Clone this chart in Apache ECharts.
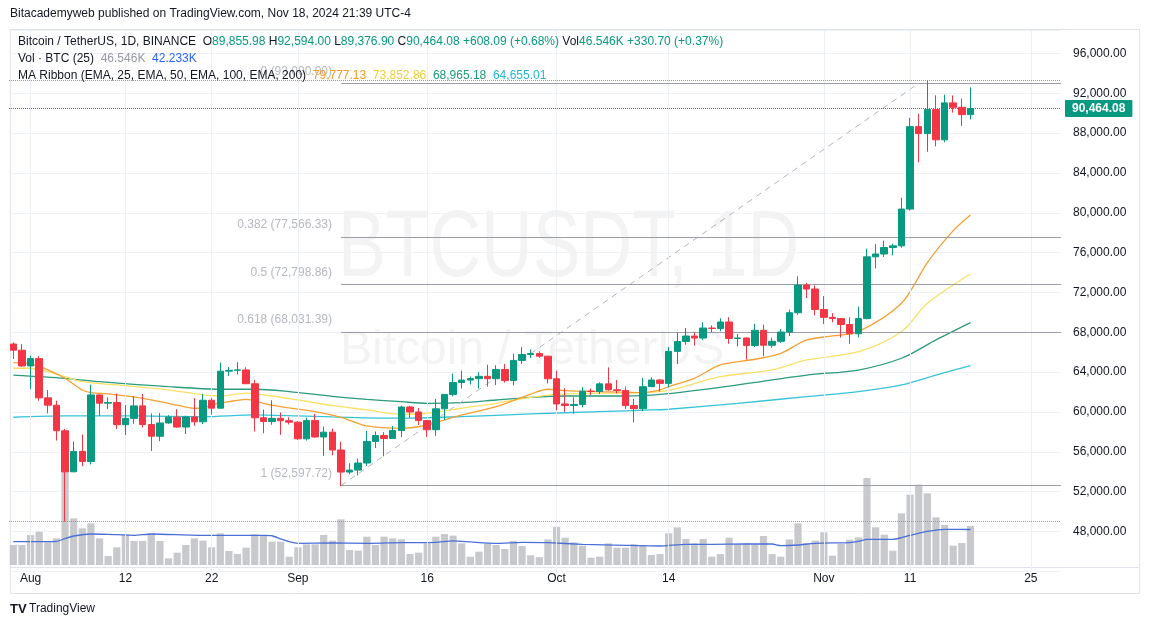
<!DOCTYPE html>
<html><head><meta charset="utf-8">
<script src="https://cdn.jsdelivr.net/npm/echarts@6/dist/echarts.min.js"></script>
<style>html,body{margin:0;padding:0;background:#fff}#c{width:1149px;height:628px}</style>
</head><body><div id="c"></div>
<script>
const FONT = '"Liberation Sans", Arial, sans-serif';

const dates = [
'Jul 30','Jul 31',
'Aug 1','Aug 2','Aug 3','Aug 4','Aug 5','Aug 6','Aug 7','Aug 8','Aug 9','Aug 10','Aug 11','Aug 12','Aug 13','Aug 14','Aug 15','Aug 16','Aug 17','Aug 18','Aug 19','Aug 20','Aug 21','Aug 22','Aug 23','Aug 24','Aug 25','Aug 26','Aug 27','Aug 28','Aug 29','Aug 30','Aug 31',
'Sep 1','Sep 2','Sep 3','Sep 4','Sep 5','Sep 6','Sep 7','Sep 8','Sep 9','Sep 10','Sep 11','Sep 12','Sep 13','Sep 14','Sep 15','Sep 16','Sep 17','Sep 18','Sep 19','Sep 20','Sep 21','Sep 22','Sep 23','Sep 24','Sep 25','Sep 26','Sep 27','Sep 28','Sep 29','Sep 30',
'Oct 1','Oct 2','Oct 3','Oct 4','Oct 5','Oct 6','Oct 7','Oct 8','Oct 9','Oct 10','Oct 11','Oct 12','Oct 13','Oct 14','Oct 15','Oct 16','Oct 17','Oct 18','Oct 19','Oct 20','Oct 21','Oct 22','Oct 23','Oct 24','Oct 25','Oct 26','Oct 27','Oct 28','Oct 29','Oct 30','Oct 31',
'Nov 1','Nov 2','Nov 3','Nov 4','Nov 5','Nov 6','Nov 7','Nov 8','Nov 9','Nov 10','Nov 11','Nov 12','Nov 13','Nov 14','Nov 15','Nov 16','Nov 17','Nov 18','Nov 19','Nov 20','Nov 21','Nov 22','Nov 23','Nov 24','Nov 25','Nov 26','Nov 27','Nov 28'
];

const opens = [
66819.32,66201.02,
64619.24,65357.50,61414.81,60676.09,58110.30,53991.47,56034.31,55027.47,61710.57,60880.12,60945.15,58719.49,59354.72,60609.56,58737.26,57560.11,58894.10,59478.96,58483.99,59493.45,59012.92,61175.20,60381.81,64094.37,64178.99,64219.99,62834.00,59415.00,59034.90,59359.01,59123.99,
58974.00,57301.77,59132.12,57487.74,57970.90,56180.00,53962.97,54160.86,54869.95,57042.01,57635.99,57338.00,58132.31,60497.99,59993.02,59132.00,58213.99,60313.99,61759.98,62948.00,63201.05,63348.97,63578.76,63339.99,64262.70,63152.01,65173.99,65769.95,65858.00,65602.01,
63327.60,60804.92,60649.27,60752.72,62086.00,62058.01,62819.91,62224.01,62160.50,60636.01,60326.40,62539.99,63206.23,62870.02,66084.00,67074.14,67620.00,67421.78,68427.99,68377.99,69032.00,67377.50,67426.01,66668.65,68198.27,66698.34,67092.76,68021.69,69962.21,72736.41,72344.75,
70292.01,69496.00,69374.74,68775.99,67850.01,69372.01,75571.99,75857.89,76509.78,76677.46,80370.01,88648.00,87952.00,90375.21,87325.59,91032.08,90587.98,89855.98
];
const closes = [
66201.01,64619.25,
65357.50,61415.07,60680.09,58116.97,53991.46,56034.32,55027.46,61710.56,60880.11,60945.15,58719.48,59354.72,60609.57,58737.27,57560.10,58894.10,59478.97,58483.98,59493.45,59012.92,61175.19,60381.81,64094.36,64178.99,64219.99,62834.00,59415.00,59034.90,59359.01,59123.99,58973.99,
57301.86,59132.13,57487.73,57970.90,56180.00,53962.97,54160.86,54869.95,57042.00,57635.99,57338.00,58132.32,60498.00,59993.03,59132.00,58213.99,60313.99,61759.99,62947.99,63201.05,63348.96,63578.76,63339.99,64262.70,63152.01,65173.99,65769.95,65858.00,65602.01,63327.59,
60805.78,60649.28,60752.71,62086.00,62058.00,62819.91,62224.00,62160.49,60636.02,60326.39,62540.00,63206.22,62870.02,66083.99,67074.14,67620.01,67421.78,68428.00,68378.00,69031.99,67377.50,67426.00,66668.65,68198.28,66698.33,67092.76,68021.70,69962.21,72736.42,72344.74,70292.01,
69496.01,69374.74,68775.99,67850.01,69372.01,75571.99,75857.89,76509.78,76677.46,80370.01,88647.99,87952.01,90375.20,87325.59,91032.07,90586.92,89855.99,90464.08
];
const lows = [
65323.19,64532.05,
62302.00,61130.00,59850.00,57122.77,49000.00,53950.00,54558.62,54730.00,59587.62,60287.56,58286.73,57688.00,58806.10,58433.18,56078.54,57068.00,58813.05,58418.54,57787.30,58610.88,58783.47,59724.87,60345.18,63619.92,63775.14,62800.00,58034.01,57860.00,58713.09,57701.10,58744.00,
57201.00,57128.00,57415.00,55606.00,55643.65,52550.00,53745.54,53629.01,54591.96,56386.40,55545.19,57324.00,57493.30,59400.00,58691.05,57493.30,57610.01,59174.80,61555.00,62350.00,62758.00,62357.93,62538.75,62700.00,62947.08,62670.00,64819.90,65422.23,65432.00,62856.30,
60164.00,60000.00,59828.11,60459.90,61689.26,61798.97,62128.00,61860.31,60301.00,58946.00,60087.64,62487.23,62050.00,62457.81,64800.01,66750.49,66666.00,67192.36,68010.00,68100.00,66840.67,66571.42,65260.00,66510.00,65596.29,66439.90,66913.73,67618.00,69760.00,71436.00,69685.76,
68820.14,69000.14,67478.73,66835.00,67476.63,69298.00,74416.00,75555.00,75714.66,76492.00,80216.01,85072.00,86127.99,86668.21,87073.38,90056.17,88722.00,89376.90
];
const highs = [
66987.67,66810.00,
65659.78,65596.14,62198.22,61117.63,58305.59,57040.00,57736.05,62745.14,61751.86,61464.53,61858.00,60680.00,61572.40,61800.00,59847.29,59890.00,59680.00,60280.00,59618.00,61396.33,61820.93,61400.00,64955.00,64513.17,64996.00,64481.00,63212.00,60234.98,61166.99,59944.07,59462.38,
59076.59,59425.69,59809.65,58519.00,58327.07,57008.00,54850.00,55318.00,58088.00,58044.36,57981.71,58588.00,60625.00,60610.45,60395.80,59210.70,61320.00,61786.24,63850.00,64133.32,63559.90,64000.00,64745.88,64688.00,64817.99,65839.00,66498.00,66260.00,66076.12,65618.80,
64130.63,62390.31,61477.19,62484.85,62370.56,62975.00,64478.19,63200.00,62543.75,61321.68,63417.56,63480.00,63285.72,66500.00,67950.00,68424.00,67939.40,69000.00,68693.26,69400.00,69519.52,67836.01,67472.83,68850.00,68771.49,67454.55,68332.05,70270.00,73620.12,72961.00,72700.00,
71632.95,69914.37,69391.00,69500.00,70577.91,76400.00,76849.99,77199.99,76900.00,81500.00,89530.54,89940.00,93265.64,91790.00,91850.00,91779.66,91449.99,92594.00
];
// volume, thousands of BTC
const volumes = [
23.8,23.8,
35.7,39.7,27.0,31.7,112.0,55.5,43.6,49.6,31.7,10.7,21.0,36.5,28.6,28.6,37.7,28.6,7.9,14.7,23.8,31.7,29.0,21.0,37.7,16.7,13.1,20.6,36.5,35.5,27.8,27.8,9.9,
21.0,24.6,24.6,35.7,29.0,54.3,17.9,17.1,33.7,23.8,33.7,31.7,30.5,13.1,14.7,25.8,33.7,36.9,34.9,25.8,9.9,15.9,25.8,23.8,19.0,28.6,22.6,11.5,9.3,30.5,
45.6,32.5,27.0,23.0,8.7,9.9,25.8,20.6,20.6,24.6,23.8,11.9,13.0,37.7,44.8,31.0,25.8,31.0,9.9,13.0,32.5,24.6,25.8,24.6,34.5,13.0,9.9,30.4,49.6,25.8,29.0,
38.9,11.1,25.0,30.1,32.9,103.5,44.8,36.1,17.0,61.5,83.7,95.6,85.3,56.7,47.6,23.0,26.2,46.546
];
// Volume SMA(25)
const volMa = [
['Jul 30',27.7],['Aug 3',27.7],['Aug 4',28.0],['Aug 5',31.5],['Aug 6',34.5],['Aug 8',36.9],['Aug 10',36.5],['Aug 13',35.3],['Aug 15',36.9],['Aug 21',35.3],['Aug 28',35.3],['Aug 29',34.8],['Aug 30',31.0],['Aug 31',27.7],
['Sep 1',25.8],['Sep 5',26.2],['Sep 9',25.8],['Sep 13',26.6],['Sep 17',27.0],['Sep 19',28.6],['Sep 21',27.4],['Sep 24',25.8],['Sep 27',27.0],['Sep 30',26.6],
['Oct 4',24.6],['Oct 9',23.4],['Oct 13',22.6],['Oct 16',24.6],['Oct 19',24.6],['Oct 23',25.0],['Oct 26',25.0],['Oct 27',23.0],['Oct 29',23.8],['Oct 31',25.8],
['Nov 4',26.6],['Nov 5',28.0],['Nov 6',30.6],['Nov 9',30.6],['Nov 10',32.5],['Nov 11',35.3],['Nov 13',40.0],['Nov 15',42.4],['Nov 18',42.233]
];
// MA Ribbon EMA lines
const ema25 = [
['Jul 30',64950],['Aug 1',64820],['Aug 3',64220],['Aug 5',63380],['Aug 7',62200],['Aug 8',61940],['Aug 10',61810],['Aug 14',61370],['Aug 17',60870],['Aug 20',60370],['Aug 21',60370],['Aug 22',60700],['Aug 24',61030],['Aug 26',61270],['Aug 28',60870],['Aug 30',60530],
['Sep 3',60030],['Sep 6',59450],['Sep 9',58600],['Sep 13',58360],['Sep 16',58690],['Sep 20',59700],['Sep 24',60530],['Sep 28',61800],['Sep 30',62280],
['Oct 2',62140],['Oct 6',62040],['Oct 11',61940],['Oct 13',62210],['Oct 14',62540],['Oct 17',63380],['Oct 20',64720],['Oct 24',65290],['Oct 27',65890],['Oct 30',67230],
['Nov 2',67630],['Nov 5',68060],['Nov 10',70910],['Nov 13',75000],['Nov 16',78200],['Nov 18',79777.13]
];
const ema50 = [
['Jul 30',64390],['Aug 1',64390],['Aug 3',64050],['Aug 5',63540],['Aug 7',63040],['Aug 11',62710],['Aug 17',62210],['Aug 21',61710],['Aug 23',61600],['Aug 25',61810],['Aug 26',61880],['Aug 29',61600],
['Sep 1',61200],['Sep 5',60650],['Sep 9',60200],['Sep 13',59770],['Sep 16',59870],['Sep 20',60370],['Sep 24',60870],['Sep 28',61470],
['Oct 2',61810],['Oct 6',61880],['Oct 10',61920],['Oct 14',62170],['Oct 20',63540],['Oct 26',64220],['Oct 30',65220],
['Nov 5',66050],['Nov 10',68060],['Nov 13',70910],['Nov 18',73852.86]
];
const ema100 = [
['Jul 30',63700],['Aug 5',63380],['Aug 9',63040],['Aug 17',62540],['Aug 23',62280],['Aug 27',62280],['Aug 31',62040],
['Sep 5',61570],['Sep 9',61270],['Sep 13',61030],['Sep 16',60870],['Sep 20',60930],['Sep 24',61200],['Sep 28',61470],
['Oct 2',61600],['Oct 6',61600],['Oct 10',61620],['Oct 14',61840],['Oct 22',62710],['Oct 30',63700],
['Nov 5',64210],['Nov 10',65390],['Nov 14',67230],['Nov 18',68965.18]
];
const ema200 = [
['Jul 30',59470],['Aug 5',59600],['Aug 13',59600],['Aug 21',59530],['Aug 27',59700],
['Sep 1',59600],['Sep 5',59500],['Sep 13',59370],['Sep 20',59530],['Sep 28',59800],
['Oct 6',60030],['Oct 12',60200],['Oct 14',60270],['Oct 22',60870],['Oct 30',61540],
['Nov 5',62040],['Nov 10',62710],['Nov 14',63700],['Nov 18',64655.01]
];
// Fibonacci retracement
const fibRatios = [1, 0.618, 0.5, 0.382, 0];
const fibPrices = [52597.72, 68031.39, 72798.86, 77566.33, 93000.00];
const fibStart = 'Sep 6';
const trendEnd = 'Nov 12';
const highLine = 93265.64;
const lowLine = 49000.00;

const tickDates = ['Aug 1','Aug 12','Aug 22','Sep 1','Sep 16','Oct 1','Oct 14','Nov 1','Nov 11','Nov 25'];
const tickLabels = ['Aug','12','22','Sep','16','Oct','14','Nov','11','25'];

const fmt2 = v => v.toLocaleString('en-US', {minimumFractionDigits: 2, maximumFractionDigits: 2});
const n = closes.length - 1;
const lastO = opens[n], lastH = highs[n], lastL = lows[n], lastC = closes[n];
const chg = lastC - closes[n - 1];
const chgPct = chg / closes[n - 1] * 100;

const GREEN = '#089981', RED = '#f23645';
const C25 = '#f5a033', C50 = '#fbe066', C100 = '#2a9b7b', C200 = '#35c3d8';

const chart = echarts.init(document.getElementById('c'), null, {renderer: 'canvas'});

const rs = (fill, extra) => Object.assign({fill: fill, fontSize: 12, fontFamily: FONT}, extra || {});

const line1 = '{d|Bitcoin / TetherUS, 1D, BINANCE}  {d|O}{g|' + fmt2(lastO) + '} {d|H}{g|' + fmt2(lastH) + '} {d|L}{g|' + fmt2(lastL) +
  '} {d|C}{g|' + fmt2(lastC) + '} {g|+' + fmt2(chg) + ' (+' + chgPct.toFixed(2) + '%)} {d|Vol}{g|' + volumes[n].toFixed(3) + 'K} {g|+330.70 (+0.37%)}';
const line2 = '{d|Vol · BTC (25)}  {gr|' + volumes[n].toFixed(3) + 'K}  {b|' + volMa[volMa.length - 1][1].toFixed(3) + 'K}';
const line3 = '{d|MA Ribbon (EMA, 25, EMA, 50, EMA, 100, EMA, 200)}  {o|' + fmt2(ema25[ema25.length-1][1]) + '}  {y|' + fmt2(ema50[ema50.length-1][1]) +
  '}  {t|' + fmt2(ema100[ema100.length-1][1]) + '}  {c|' + fmt2(ema200[ema200.length-1][1]) + '}';
const richLegend = {d: rs('#131722'), g: rs(GREEN), gr: rs('#9598a1'), b: rs('#2962ff'), o: rs('#f59a23'), y: rs('#f0cf3a'), t: rs('#1f9a78'), c: rs('#22b8cf')};

const emaSeries = (name, data, color) => ({
  name: name, type: 'line', xAxisIndex: 0, yAxisIndex: 0, data: data, smooth: 0.3, symbol: 'none',
  lineStyle: {color: color, width: 1.3}, z: 3, silent: true
});

const option = {
  animation: false,
  backgroundColor: '#ffffff',
  textStyle: {fontFamily: FONT},
  grid: [
    {left: 9, right: 88, top: 30, bottom: 56.7},
    {left: 9, right: 88, top: 365, bottom: 63}
  ],
  xAxis: [
    {type: 'category', gridIndex: 0, data: dates, boundaryGap: true,
     axisLine: {show: false}, axisTick: {show: false}, axisLabel: {show: false}, splitLine: {show: false}},
    {type: 'category', gridIndex: 1, data: dates, boundaryGap: true,
     axisLine: {show: false}, axisTick: {show: false}, splitLine: {show: false},
     axisLabel: {show: true, interval: (i, v) => tickDates.indexOf(v) >= 0,
       formatter: v => tickLabels[tickDates.indexOf(v)], color: '#131722', fontSize: 12, margin: 8, fontFamily: FONT}}
  ],
  yAxis: [
    {type: 'value', gridIndex: 0, position: 'right', min: 44000, max: 98350, interval: 4000, scale: false,
     axisLine: {show: false}, axisTick: {show: false},
     axisLabel: {showMinLabel: false, showMaxLabel: false, margin: 12, color: '#131722', fontSize: 12, fontFamily: FONT, formatter: v => fmt2(v)},
     splitLine: {show: true, lineStyle: {color: '#eff2f7', width: 1}}},
    {type: 'value', gridIndex: 1, min: 0, max: 238, show: false, splitLine: {show: false}}
  ],
  graphic: [
    {type: 'rect', silent: true, z: -1, shape: {x: 10.5, y: 29.5, width: 1129, height: 564}, style: {fill: 'none', stroke: '#e0e3eb', lineWidth: 1}},
    {type: 'line', silent: true, z: -1, shape: {x1: 10, y1: 567.5, x2: 1139, y2: 567.5}, style: {stroke: '#e0e3eb', lineWidth: 1}},
    {type: 'text', silent: true, z: 0, x: 338, y: 250, scaleX: 0.753,
     style: {text: 'BTCUSDT, 1D', fontSize: 95, fontFamily: FONT, fill: 'rgba(120,123,134,0.09)', align: 'left', verticalAlign: 'middle'}},
    {type: 'text', silent: true, z: 0, x: 340, y: 351,
     style: {text: 'Bitcoin / TetherUS', fontSize: 48, fontFamily: FONT, fill: 'rgba(120,123,134,0.09)', align: 'left', verticalAlign: 'middle'}},
    {type: 'text', silent: true, z: 10, x: 10, y: 14,
     style: {text: 'Bitacademyweb published on TradingView.com, Nov 18, 2024 21:39 UTC-4', fontSize: 12, fontFamily: FONT, fill: '#131722', align: 'left', verticalAlign: 'middle'}},
    {type: 'text', silent: true, z: 10, x: 18, y: 42, style: {text: line1, rich: richLegend, fontSize: 12, fontFamily: FONT, align: 'left', verticalAlign: 'middle'}},
    {type: 'text', silent: true, z: 10, x: 18, y: 59, style: {text: line2, rich: richLegend, fontSize: 12, fontFamily: FONT, align: 'left', verticalAlign: 'middle'}},
    {type: 'text', silent: true, z: 10, x: 18, y: 76, style: {text: line3, rich: richLegend, fontSize: 12, fontFamily: FONT, align: 'left', verticalAlign: 'middle'}},
    {type: 'text', silent: true, z: 10, x: 10, y: 609, style: {text: 'TV', fontSize: 13, fontWeight: 900, fontFamily: FONT, fill: '#131722', align: 'left', verticalAlign: 'middle'}},
    {type: 'text', silent: true, z: 10, x: 29, y: 609, style: {text: 'TradingView', fontSize: 12, fontFamily: FONT, fill: '#131722', align: 'left', verticalAlign: 'middle'}}
  ],
  series: [
    {name: 'vgrid', type: 'line', xAxisIndex: 0, yAxisIndex: 0, data: dates.map(() => null), z: 1, silent: true, symbol: 'none',
     markLine: {silent: true, symbol: ['none', 'none'], label: {show: false}, animation: false,
       lineStyle: {color: '#eceff4', type: 'solid', width: 1},
       data: tickDates.map(d => ({xAxis: d}))}},
    {name: 'Volume', type: 'bar', xAxisIndex: 1, yAxisIndex: 1, data: volumes, barWidth: '84%',
     itemStyle: {color: '#c8c9cc'}, z: 2, silent: true},
    {name: 'Vol MA', type: 'line', xAxisIndex: 1, yAxisIndex: 1, data: volMa, smooth: 0.2, symbol: 'none',
     lineStyle: {color: '#4a6fd8', width: 1.3}, z: 3, silent: true},
    emaSeries('EMA 200', ema200, C200),
    emaSeries('EMA 100', ema100, C100),
    emaSeries('EMA 50', ema50, C50),
    emaSeries('EMA 25', ema25, C25),
    {name: 'Fib', type: 'scatter', xAxisIndex: 0, yAxisIndex: 0, symbolSize: 0, z: 3, silent: true,
     data: fibPrices.map((p, i) => ({value: [fibStart, p], label: {formatter: fibRatios[i] + ' (' + fmt2(p) + ')'}})),
     label: {show: true, position: [-9, -12], align: 'right', verticalAlign: 'middle', color: '#a3a6ae', fontSize: 12, fontFamily: FONT},
     markLine: {silent: true, symbol: ['none', 'none'], label: {show: false}, animation: false,
       lineStyle: {color: '#9b9ea6', type: 'solid', width: 1},
       data: fibPrices.map(p => [{coord: [fibStart, p]}, {coord: [dates[dates.length - 1], p], x: 1061}])}},
    {name: 'Trend', type: 'line', xAxisIndex: 0, yAxisIndex: 0, symbol: 'none', z: 4, silent: true,
     data: [[fibStart, fibPrices[0]], [trendEnd, fibPrices[4]]],
     lineStyle: {color: '#b2b5be', width: 1, type: [6, 5]}},
    {name: 'BTCUSDT', type: 'candlestick', xAxisIndex: 0, yAxisIndex: 0, z: 5, barWidth: 7, silent: true,
     data: opens.map((o, i) => [o, closes[i], lows[i], highs[i]]),
     itemStyle: {color: GREEN, color0: RED, borderColor: GREEN, borderColor0: RED, borderWidth: 1},
     markLine: {silent: true, symbol: ['none', 'none'], animation: false,
       data: [
         {yAxis: highLine, lineStyle: {color: '#9598a1', type: 'dotted', width: 1}, label: {show: false}},
         {yAxis: lowLine, lineStyle: {color: '#9598a1', type: 'dotted', width: 1}, label: {show: false}},
         {yAxis: lastC, lineStyle: {color: GREEN, type: 'dotted', width: 1},
          label: {show: true, position: 'end', distance: 4, formatter: fmt2(lastC), color: '#ffffff', fontWeight: 'bold',
                  fontSize: 12, fontFamily: FONT, backgroundColor: GREEN, padding: [3, 7, 2, 7], borderRadius: 1}}
       ]}}
  ]
};
chart.setOption(option);
</script>
</body></html>
